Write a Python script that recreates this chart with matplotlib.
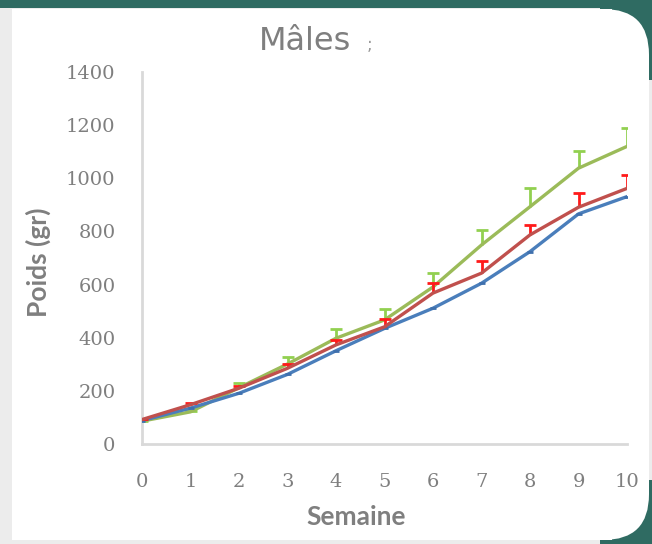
import matplotlib
matplotlib.use("Agg")
import matplotlib.pyplot as plt
from matplotlib.patches import Rectangle, FancyBboxPatch
import numpy as np

weeks = [0, 1, 2, 3, 4, 5, 6, 7, 8, 9, 10]
blue = [88, 135, 191, 262, 351, 435, 511, 605, 724, 866, 931]
red = [92, 148, 210, 285, 373, 441, 568, 643, 787, 891, 962]
green = [86, 121, 212, 301, 398, 467, 591, 749, 893, 1038, 1120]
red_err = [3, 6, 8, 15, 20, 28, 37, 44, 37, 52, 50]
green_err = [2, 5, 16, 28, 34, 40, 54, 56, 69, 66, 69]
yticks = [0, 200, 400, 600, 800, 1000, 1200, 1400]

W, H = 652, 544
fig = plt.figure(figsize=(W / 100, H / 100), dpi=100)
fig.patch.set_facecolor("#ececec")

def px(x, y, w, h):
    # top-left pixel coords -> figure fraction
    return (x / W, 1 - (y + h) / H, w / W, h / H)

teal = "#2f6b62"
for (x, y, w, h) in [(0, 0, W, 8), (600, 0, 52, 80), (600, 480, 52, 64)]:
    a, b, c, d = px(x, y, w, h)
    fig.patches.append(Rectangle((a, b), c, d, transform=fig.transFigure,
                                 facecolor=teal, edgecolor="none", zorder=-3))
a, b, c, d = px(12, 9, 600, 531)
fig.patches.append(Rectangle((a, b), c, d, transform=fig.transFigure,
                             facecolor="white", edgecolor="none", zorder=-2))
a, b, c, d = px(12, 9, 637, 531)
fig.patches.append(FancyBboxPatch((a, b), c, d, transform=fig.transFigure,
                                  boxstyle="round,pad=0,rounding_size=0.07",
                                  mutation_aspect=W / H,
                                  facecolor="white", edgecolor="none", zorder=-2))

ax = fig.add_axes([142 / W, 1 - 444 / H, (627 - 142) / W, (444 - 72) / H])
ax.set_facecolor("none")
ax.set_zorder(2)
ax.set_xlim(0, 10)
ax.set_ylim(0, 1400)

gray = "#7f7f7f"
lw = 2.4
ax.plot(weeks, blue, color="#4a7ebb", lw=lw, marker="_", ms=5, mew=2,
        mec="#3f70ad", zorder=3, solid_joinstyle="round")
for vals, errs, lc, ec, z in [(red, red_err, "#c0504d", "#ff1a1a", 4),
                               (green, green_err, "#9bbb59", "#92d050", 2)]:
    ln, caps, bars = ax.errorbar(weeks, vals, yerr=[np.zeros(len(vals)), errs],
                                 color=lc, lw=lw, ecolor=ec, elinewidth=2,
                                 capsize=4, capthick=2, zorder=z)
    caps[0].set_visible(False)

for s in ["top", "right"]:
    ax.spines[s].set_visible(False)
for s in ["left", "bottom"]:
    ax.spines[s].set_color("#d9d9d9")
    ax.spines[s].set_linewidth(2)

ax.set_xticks(weeks)
ax.set_yticks(yticks)
ax.tick_params(length=0, colors=gray, labelsize=14)
ax.tick_params(axis="y", pad=19)
ax.tick_params(axis="x", pad=21)
for lab in ax.get_xticklabels() + ax.get_yticklabels():
    lab.set_fontfamily("DejaVu Serif")

fig.text(356 / W, 1 - 517 / H, "Semaine", ha="center", va="center",
         color=gray, fontsize=19, fontweight="bold", fontfamily="Lato")
fig.text(38 / W, 1 - 262 / H, "Poids (gr)", ha="center", va="center",
         rotation=90, color=gray, fontsize=19, fontweight="bold", fontfamily="Lato")

fig.text(305 / W, 1 - 42 / H, "Mâles", ha="center", va="center",
         color=gray, fontsize=23)
fig.text(370 / W, 1 - 45 / H, ";", ha="center", va="center",
         color="#9a9a9a", fontsize=12)

fig.savefig("out.png", dpi=100, facecolor=fig.get_facecolor())
